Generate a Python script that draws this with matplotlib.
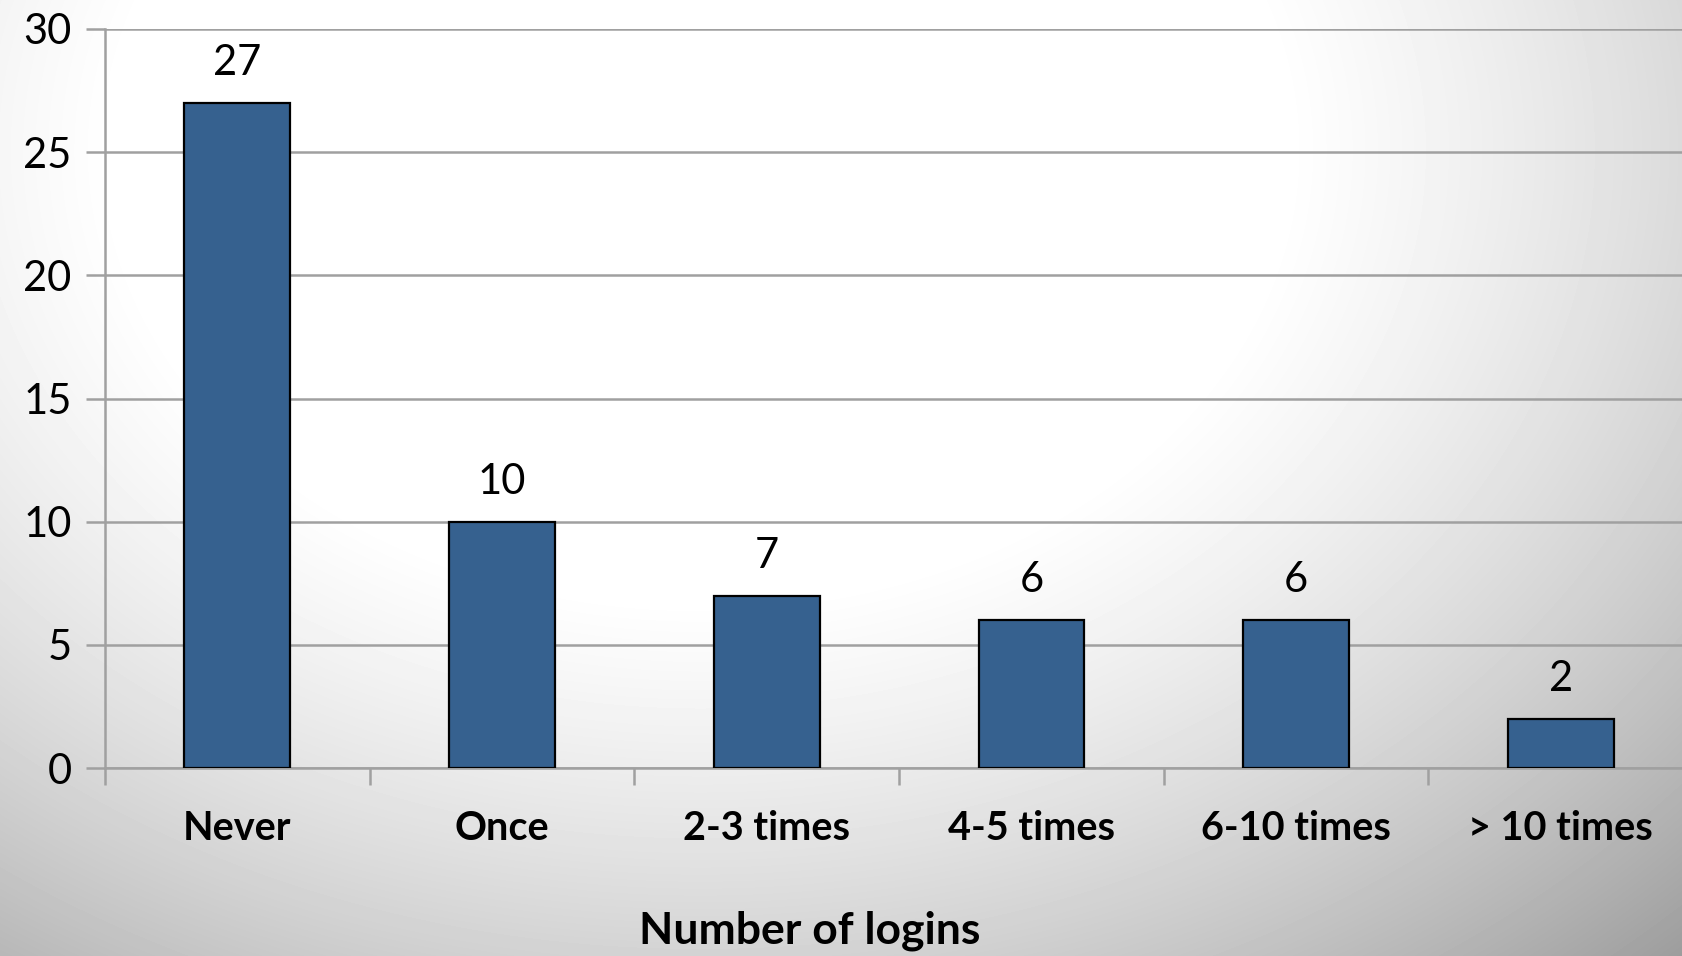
import matplotlib
matplotlib.use("Agg")
import matplotlib.pyplot as plt
import numpy as np

categories = ["Never", "Once", "2-3 times", "4-5 times", "6-10 times", "> 10 times"]
counts = [27, 10, 7, 6, 6, 2]
y_ticks = [0, 5, 10, 15, 20, 25, 30]

plt.rcParams['font.family'] = ['Lato', 'DejaVu Sans']

W, H = 1682, 956
fig = plt.figure(figsize=(W / 100, H / 100), dpi=100)

# soft radial background: white at the top, greying toward the bottom corners
bg = fig.add_axes([0, 0, 1, 1], zorder=-10)
yy, xx = np.mgrid[0:H, 0:W]
r = np.sqrt(((xx - 700) / 1300.0) ** 2 + ((yy - 150) / 1000.0) ** 2)
d = np.clip(r - 0.45, 0, None)
shade = np.clip(1.0 - 0.36 * d - 0.35 * d ** 2, 0.6, 1.0)
bg.imshow(shade, cmap="gray", vmin=0, vmax=1, aspect="auto", interpolation="bilinear")
bg.axis("off")

# axes runs slightly past the right edge of the figure
left, bottom = 105 / W, 1 - 768 / H
width = 6 * 264.7 / W
height = (768 - 29) / H
ax = fig.add_axes([left, bottom, width, height])
ax.patch.set_alpha(0)

x = np.arange(len(categories))
bars = ax.bar(x, counts, width=0.4, color="#36618f", edgecolor="black", linewidth=1.6, zorder=3)

ax.set_xlim(-0.5, len(categories) - 0.5)
ax.set_ylim(0, 30)
ax.set_yticks(y_ticks)
ax.set_yticklabels([str(t) for t in y_ticks], fontsize=30)
ax.yaxis.grid(True, color="#a0a0a0", linewidth=1.8, zorder=0)
ax.tick_params(axis="y", length=14, width=1.8, color="#a0a0a0", pad=10)

ax.set_xticks(x)
ax.set_xticklabels(categories, fontsize=28.5, fontweight="bold")
ax.set_xticks(np.arange(-0.5, len(categories), 1), minor=True)
ax.tick_params(axis="x", which="major", length=0, pad=30)
ax.tick_params(axis="x", which="minor", length=12, width=1.8, color="#a0a0a0")

for side in ["top", "right"]:
    ax.spines[side].set_visible(False)
for side in ["left", "bottom"]:
    ax.spines[side].set_color("#a0a0a0")
    ax.spines[side].set_linewidth(1.8)

for rect, v in zip(bars, counts):
    ax.text(rect.get_x() + rect.get_width() / 2, v + 0.85, str(v),
            ha="center", va="bottom", fontsize=30)

fig.text(810 / W, 1 - 931 / H, "Number of logins", ha="center", va="center",
         fontsize=32, fontweight="bold")

fig.savefig("out.png", dpi=100)
